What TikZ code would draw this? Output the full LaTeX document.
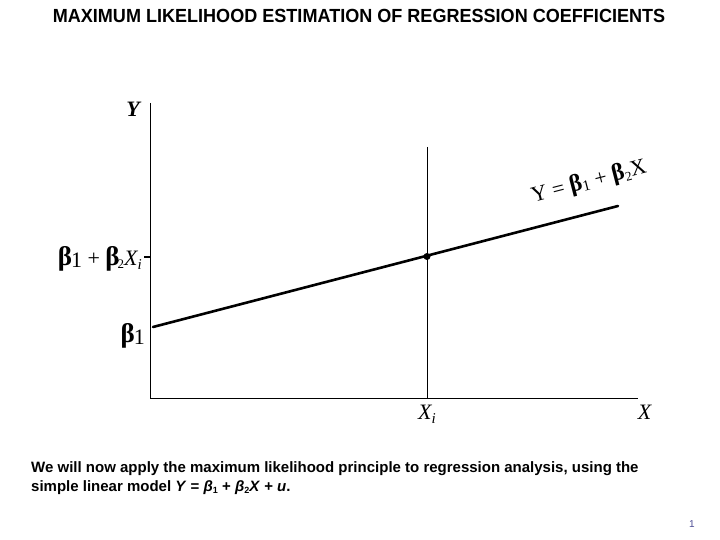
\documentclass[tikz,border=0pt]{standalone}
\usepackage{fontspec}
\setmainfont{Liberation Sans}
\newfontfamily\serifL{Liberation Serif}
\tikzset{
  axis/.style={line width=1pt, black},
  regline/.style={line width=2.6pt, black, line cap=round},
  lbl/.style={inner sep=0pt, font=\serifL\fontsize{22}{24}\selectfont},
}
\newcommand{\bb}{{\fontsize{27}{28}\selectfont\textbf{β}}}
\newcommand{\bbs}{{\fontsize{24}{26}\selectfont\textbf{β}}}
\begin{document}
\begin{tikzpicture}[x=1pt,y=-1pt]
\useasboundingbox (0,0) rectangle (720,540);
% title
\node[inner sep=0pt] (title) at (359,16) {\scalebox{0.95}[1]{\fontsize{19}{21}\selectfont\bfseries MAXIMUM LIKELIHOOD ESTIMATION OF REGRESSION COEFFICIENTS}};
% axes
\coordinate (O) at (150,398);
\coordinate (Ytop) at (150,103);
\coordinate (Xend) at (638,398);
\draw[axis] (Ytop) -- (O) -- (Xend);
% vertical at Xi
\coordinate (vtop) at (427,147);
\coordinate (vbot) at (427,398);
\draw[axis] (vtop) -- (vbot);
% regression line
\coordinate (r0) at (153,327);
\coordinate (r1) at (618,206);
\draw[regline] (r0) -- (r1);
% point
\node[circle, fill=black, inner sep=0pt, minimum size=7pt] (pt) at (427,256.5) {};
% tick
\coordinate (t0) at (144,256.5);
\coordinate (t1) at (150,256.5);
\draw[line width=2pt] (t0) -- (t1);
% labels
\node[lbl, anchor=center] (Ylab) at (134,109) {\textbf{\textit{Y}}};
\node[lbl, anchor=east] (fit) at (142,259) {\bb\kern-1pt\raisebox{-2pt}{1} + \bb\kern-2pt\raisebox{-3pt}{\fontsize{13}{14}\selectfont 2}\textit{X\raisebox{-4pt}{\fontsize{15}{16}\selectfont i}}};
\node[lbl, anchor=east] (b1) at (145,336) {\bb\kern-1pt\raisebox{-2pt}{1}};
\node[lbl] (Xi) at (427,414) {\textit{X\raisebox{-4pt}{\fontsize{15}{16}\selectfont i}}};
\node[lbl] (Xlab) at (645,412) {\textit{X}};
\node[lbl, rotate=14.5] (eq) at (589,182) {Y = \bbs\raisebox{-2pt}{\fontsize{15}{16}\selectfont 1} + \bbs\raisebox{-3pt}{\fontsize{13}{14}\selectfont 2}X};
% bottom text
\node[inner sep=0pt, anchor=west, align=left, font=\fontsize{15}{19.5}\selectfont\bfseries] (txt) at (31,478) {We will now apply the maximum likelihood principle to regression analysis, using the\\simple linear model \textit{Y} = \textit{β}\raisebox{-2pt}{\fontsize{9}{10}\selectfont 1} + \textit{β}\raisebox{-2pt}{\fontsize{9}{10}\selectfont 2}\textit{X} + \textit{u}.};
\node[inner sep=0pt, font=\fontsize{10}{12}\selectfont, text=black!60!blue!70] (pg) at (692,524) {1};
\end{tikzpicture}
\end{document}
